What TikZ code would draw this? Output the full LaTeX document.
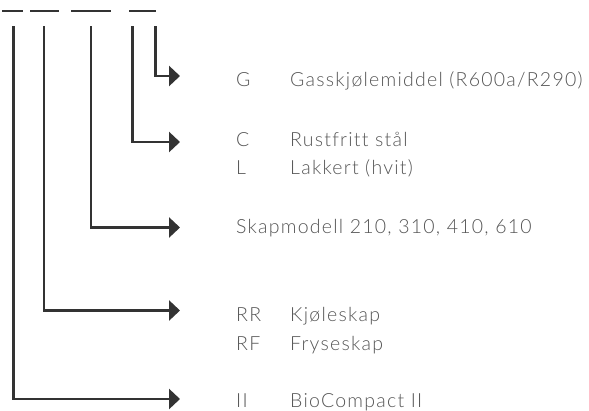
\documentclass[tikz,border=0pt]{standalone}
\usepackage{fontspec}
\setmainfont{Lato Light}[LetterSpace=6.4,Ligatures=NoCommon]
\usetikzlibrary{arrows.meta}
\definecolor{linec}{HTML}{333333}
\definecolor{textc}{HTML}{555555}
\tikzset{
  dashseg/.style={draw=linec, line width=2.6pt},
  conn/.style={draw=linec, line width=2.6pt, -{Triangle[length=11pt,width=20pt]}},
  lbl/.style={anchor=base west, inner sep=0pt, text=textc, font=\fontsize{19.5}{22}\selectfont},
}
\begin{document}
\begin{tikzpicture}[x=1pt,y=-1pt]
\useasboundingbox (0,0) rectangle (589,410);
% dashes
\coordinate (d1a) at (2,11);   \coordinate (d1b) at (23,11);
\coordinate (d2a) at (30,11);  \coordinate (d2b) at (59,11);
\coordinate (d3a) at (71,11);  \coordinate (d3b) at (111,11);
\coordinate (d4a) at (129,11); \coordinate (d4b) at (156,11);
\draw[dashseg] (d1a) -- (d1b);
\draw[dashseg] (d2a) -- (d2b);
\draw[dashseg] (d3a) -- (d3b);
\draw[dashseg] (d4a) -- (d4b);
% connector starts
\coordinate (s1) at (13.5,26);
\coordinate (s2) at (44,26);
\coordinate (s3) at (91,26);
\coordinate (s4) at (132.5,26);
\coordinate (s5) at (155.5,26);
% arrow tips
\coordinate (t5) at (180,76);
\coordinate (t4) at (180,142);
\coordinate (t3) at (180,227.5);
\coordinate (t2) at (180,310.5);
\coordinate (t1) at (180,399);
\draw[conn] (s5) |- (t5);
\draw[conn] (s4) |- (t4);
\draw[conn] (s3) |- (t3);
\draw[conn] (s2) |- (t2);
\draw[conn] (s1) |- (t1);
% labels
\node[lbl] (gk) at (236,86.5) {G};
\node[lbl] (gt) at (290,86.5) {Gasskjølemiddel (R600a/R290)};
\node[lbl] (ck) at (236,146) {C};
\node[lbl] (ct) at (290,146) {Rustfritt stål};
\node[lbl] (lk) at (236,174.3) {L};
\node[lbl] (lt) at (290,174.3) {Lakkert (hvit)};
\node[lbl] (sk) at (236,233) {Skapmodell 210, 310, 410, 610};
\node[lbl] (rrk) at (236,321.7) {RR};
\node[lbl] (rrt) at (290,321.7) {Kjøleskap};
\node[lbl] (rfk) at (236,350) {RF};
\node[lbl] (rft) at (290,350) {Fryseskap};
\node[lbl] (iik) at (236,407.5) {II};
\node[lbl] (iit) at (290,407.5) {BioCompact II};
\end{tikzpicture}
\end{document}
